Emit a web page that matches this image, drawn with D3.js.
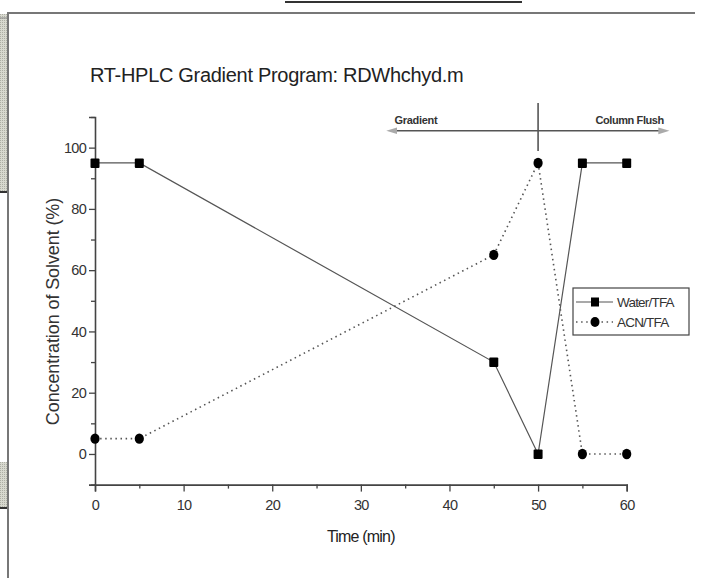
<!DOCTYPE html>
<html>
<head>
<meta charset="utf-8">
<script src="https://cdn.jsdelivr.net/npm/d3@7"></script>
<style>
  html, body { margin: 0; padding: 0; background: #fff; }
  svg { display: block; }
  text { font-family: "Liberation Sans", Arial, sans-serif; }
</style>
</head>
<body>
<svg id="chart" width="710" height="578"></svg>
<script>
// ---- Data ----
const times = [0, 5, 45, 50, 55, 60];
const waterTFA = [95, 95, 30, 0, 95, 95];
const acnTFA = [5, 5, 65, 95, 0, 0];
const seriesNames = ["Water/TFA", "ACN/TFA"];
const xMajorTicks = [0, 10, 20, 30, 40, 50, 60];
const xMinorTicks = [5, 15, 25, 35, 45, 55];
const yMajorTicks = [0, 20, 40, 60, 80, 100];
const yMinorTicks = [-10, 10, 30, 50, 70, 90, 110];
const title = "RT-HPLC Gradient Program: RDWhchyd.m";
const xLabel = "Time (min)";
const yLabel = "Concentration of Solvent (%)";
const phaseLabels = ["Gradient", "Column Flush"];
const phaseDivider = 50;

const svg = d3.select("#chart");
const defs = svg.append("defs");

// ---- Page frame decorations ----
svg.append("line").attr("x1", 285).attr("x2", 522).attr("y1", 2).attr("y2", 2)
  .attr("stroke", "#333").attr("stroke-width", 2);
const pat = defs.append("pattern").attr("id", "hatch")
  .attr("width", 2).attr("height", 2).attr("patternUnits", "userSpaceOnUse");
pat.append("rect").attr("width", 2).attr("height", 2).attr("fill", "#d8d9cf");
pat.append("rect").attr("width", 1).attr("height", 1).attr("fill", "#aeafa5");
svg.append("rect").attr("x", 0).attr("y", 14).attr("width", 7).attr("height", 178).attr("fill", "url(#hatch)");
svg.append("line").attr("x1", 0).attr("x2", 7).attr("y1", 192).attr("y2", 192).attr("stroke", "#333").attr("stroke-width", 2);
svg.append("rect").attr("x", 0).attr("y", 462).attr("width", 7).attr("height", 46).attr("fill", "url(#hatch)");
svg.append("line").attr("x1", 0).attr("x2", 7).attr("y1", 508).attr("y2", 508).attr("stroke", "#333").attr("stroke-width", 2);
svg.append("path").attr("d", "M8,578 V13 H695").attr("fill", "none").attr("stroke", "#777").attr("stroke-width", 2);
svg.append("line").attr("x1", 0).attr("x2", 7).attr("y1", 18).attr("y2", 18).attr("stroke", "#888").attr("stroke-width", 1);

// ---- Scales ----
const x = d3.scaleLinear().domain([0, 60]).range([95, 626.7]);
const y = d3.scaleLinear().domain([-10, 110]).range([484.6, 117]);

// ---- Title ----
svg.append("text").attr("x", 90).attr("y", 82).attr("font-size", 20)
  .attr("letter-spacing", -0.3).attr("fill", "#222").text(title);

// ---- Axes ----
const axisColor = "#444";
const gx = svg.append("g").attr("transform", `translate(0,${y(-10)})`)
  .call(d3.axisBottom(x).tickValues(xMajorTicks).tickSize(7).tickPadding(8).tickFormat(d3.format("d")));
const gxm = svg.append("g").attr("transform", `translate(0,${y(-10)})`)
  .call(d3.axisBottom(x).tickValues(xMinorTicks).tickSize(4).tickFormat(""));
const gy = svg.append("g").attr("transform", `translate(${x(0)},0)`)
  .call(d3.axisLeft(y).tickValues(yMajorTicks).tickSize(6).tickPadding(3).tickFormat(d3.format("d")));
const gym = svg.append("g").attr("transform", `translate(${x(0)},0)`)
  .call(d3.axisLeft(y).tickValues(yMinorTicks).tickSize(4).tickFormat(""));
[gx, gxm, gy, gym].forEach(g => {
  g.selectAll(".domain").attr("stroke", axisColor).attr("stroke-width", 1.6);
  g.selectAll(".tick line").attr("stroke", axisColor).attr("stroke-width", 1.3);
  g.selectAll("text").attr("font-family", "Liberation Sans, Arial, sans-serif")
    .attr("font-size", 14.5).attr("fill", "#333").attr("letter-spacing", -0.7);
});
gxm.select(".domain").remove();
gym.select(".domain").remove();

svg.append("text").attr("x", x(30)).attr("y", 542).attr("text-anchor", "middle")
  .attr("font-size", 16).attr("letter-spacing", -0.8).attr("fill", "#222").text(xLabel);
svg.append("text").attr("transform", `translate(59,${y(46.5)}) rotate(-90)`).attr("text-anchor", "middle")
  .attr("font-size", 18).attr("letter-spacing", -0.1).attr("fill", "#333").text(yLabel);

// ---- Phase annotation ----
["start", "end"].forEach(k => {
  defs.append("marker").attr("id", "arr-" + k).attr("viewBox", "0 0 10 10")
    .attr("refX", 5).attr("refY", 5).attr("markerWidth", 7).attr("markerHeight", 7)
    .attr("orient", k === "start" ? "auto-start-reverse" : "auto")
    .append("path").attr("d", "M0,2 L10,5 L0,8 Z").attr("fill", "#aaa");
});
svg.append("line").attr("x1", x(33.5)).attr("x2", x(64.2)).attr("y1", y(105.5)).attr("y2", y(105.5))
  .attr("stroke", "#555").attr("stroke-width", 1.6)
  .attr("marker-start", "url(#arr-start)").attr("marker-end", "url(#arr-end)");
svg.append("line").attr("x1", x(phaseDivider)).attr("x2", x(phaseDivider))
  .attr("y1", y(114.6)).attr("y2", y(98.9)).attr("stroke", "#555").attr("stroke-width", 1.6);
svg.append("text").attr("x", x(33.8)).attr("y", y(107.6)).attr("font-size", 11).attr("font-weight", "bold")
  .attr("letter-spacing", -0.3).attr("fill", "#333").text(phaseLabels[0]);
svg.append("text").attr("x", x(64.2)).attr("y", y(107.6)).attr("text-anchor", "end").attr("font-size", 11)
  .attr("font-weight", "bold").attr("letter-spacing", -0.4).attr("fill", "#333").text(phaseLabels[1]);

// ---- Series ----
const waterData = times.map((t, i) => ({ t, v: waterTFA[i] }));
const acnData = times.map((t, i) => ({ t, v: acnTFA[i] }));
const line = d3.line().x(d => x(d.t)).y(d => y(d.v));

svg.append("path").datum(waterData).attr("d", line).attr("fill", "none")
  .attr("stroke", "#555").attr("stroke-width", 1.2);
svg.append("path").datum(acnData).attr("d", line).attr("fill", "none")
  .attr("stroke", "#555").attr("stroke-width", 1.6).attr("stroke-dasharray", "1.5,3.6");

svg.append("g").selectAll("rect").data(waterData).join("rect")
  .attr("x", d => x(d.t) - 4.5).attr("y", d => y(d.v) - 4.5).attr("width", 9).attr("height", 9.5)
  .attr("rx", 1).attr("fill", "#000");
svg.append("g").selectAll("ellipse").data(acnData).join("ellipse")
  .attr("cx", d => x(d.t)).attr("cy", d => y(d.v)).attr("rx", 4.6).attr("ry", 5.2).attr("fill", "#000");

// ---- Legend ----
const lg = svg.append("g").attr("transform", "translate(573,288)");
lg.append("rect").attr("width", 116).attr("height", 47).attr("fill", "#fff")
  .attr("stroke", "#444").attr("stroke-width", 1.2);
const items = [
  { name: seriesNames[0], dash: null, shape: "square" },
  { name: seriesNames[1], dash: "1.5,3.6", shape: "circle" }
];
items.forEach((it, i) => {
  const yy = 14 + i * 20;
  lg.append("line").attr("x1", 3).attr("x2", 40).attr("y1", yy).attr("y2", yy)
    .attr("stroke", "#555").attr("stroke-width", it.dash ? 1.6 : 1.2)
    .attr("stroke-dasharray", it.dash);
  if (it.shape === "square") {
    lg.append("rect").attr("x", 18).attr("y", yy - 4.5).attr("width", 8).attr("height", 9).attr("fill", "#000");
  } else {
    lg.append("ellipse").attr("cx", 22).attr("cy", yy).attr("rx", 4.5).attr("ry", 5).attr("fill", "#000");
  }
  lg.append("text").attr("x", 44).attr("y", yy + 5).attr("font-size", 13.5)
    .attr("letter-spacing", -0.8).attr("fill", "#333").text(it.name);
});
</script>
</body>
</html>
